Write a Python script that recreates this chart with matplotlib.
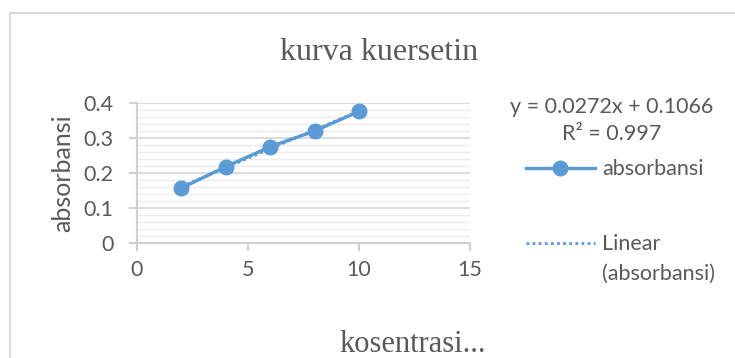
import numpy as np
import matplotlib
matplotlib.use("Agg")
import matplotlib.pyplot as plt
from matplotlib.lines import Line2D
from matplotlib.ticker import MultipleLocator

# data
konsentrasi = [2, 4, 6, 8, 10]
absorbansi = [0.157, 0.218, 0.275, 0.320, 0.376]
x_ticks = [0, 5, 10, 15]
y_ticks = [0, 0.1, 0.2, 0.3, 0.4]
y_tick_labels = ["0", "0.1", "0.2", "0.3", "0.4"]
title = "kurva kuersetin"
xlabel = "kosentrasi..."
ylabel = "absorbansi"
eq_text = "y = 0.0272x + 0.1066"
r2_text = "R² = 0.997"
series_name = "absorbansi"
trend_name = ["Linear", "(absorbansi)"]

W, H = 735, 358
fig = plt.figure(figsize=(W / 100, H / 100), dpi=100)
blue = "#5B9BD5"
gray_txt = "#595959"
sans = ["Lato", "DejaVu Sans"]
serif = ["Liberation Serif", "DejaVu Serif"]
fs = 15.5

# chart border (top & left visible)
fig.add_artist(Line2D([10 / W, 1.0], [1 - 13 / H, 1 - 13 / H], color="#d9d9d9", lw=1.5))
fig.add_artist(Line2D([10 / W, 10 / W], [1 - 13 / H, 0], color="#d9d9d9", lw=1.5))

ax = fig.add_axes([137 / W, 1 - 243 / H, (470 - 137) / W, (243 - 103) / H])
ax.set_xlim(0, 15)
ax.set_ylim(0, 0.4)
ax.set_xticks(x_ticks)
ax.set_yticks(y_ticks)
ax.set_yticklabels(y_tick_labels)
ax.yaxis.set_minor_locator(MultipleLocator(0.02))
ax.grid(True, axis="y", which="major", color="#d9d9d9", lw=1.3)
ax.grid(True, axis="y", which="minor", color="#ececec", lw=1.0)
ax.set_axisbelow(True)
for s in ["top", "right"]:
    ax.spines[s].set_visible(False)
for s in ["left", "bottom"]:
    ax.spines[s].set_color("#d0d0d0")
    ax.spines[s].set_linewidth(1.5)
ax.tick_params(axis="both", which="major", color="#d0d0d0", width=1.5, length=6,
               labelsize=fs, labelcolor=gray_txt)
ax.tick_params(axis="y", which="minor", length=0)
ax.tick_params(axis="y", pad=11)
ax.tick_params(axis="x", pad=6)
for lab in ax.get_xticklabels() + ax.get_yticklabels():
    lab.set_family(sans)

# trendline
coef = np.polyfit(konsentrasi, absorbansi, 1)
xt = np.array([min(konsentrasi), max(konsentrasi)])
ax.plot(xt, np.polyval(coef, xt), color=blue, lw=2, ls=(0, (1, 1.2)), zorder=3)
ax.plot(konsentrasi, absorbansi, color=blue, lw=2.4, marker="o", ms=10.5,
        zorder=4, clip_on=False)

fig.text(379 / W, 1 - 52 / H, title, family=serif, fontsize=23, color=gray_txt,
         ha="center", va="center")
fig.text(63 / W, 1 - 173 / H, ylabel, family=sans, fontsize=18, color=gray_txt,
         rotation=90, ha="center", va="center")
fig.text(413 / W, 1 - 345 / H, xlabel, family=serif, fontsize=22, color=gray_txt,
         ha="center", va="center")

# legend / equation
fig.text(612 / W, 1 - 107 / H, eq_text, family=sans, fontsize=fs, color=gray_txt,
         ha="center", va="center")
fig.text(612 / W, 1 - 134 / H, r2_text, family=sans, fontsize=fs, color=gray_txt,
         ha="center", va="center")
fig.add_artist(Line2D([526 / W, 595 / W], [1 - 168 / H, 1 - 168 / H], color=blue, lw=2.4))
fig.add_artist(Line2D([560 / W], [1 - 168 / H], color=blue, marker="o", ms=10.5))
fig.text(602 / W, 1 - 169 / H, series_name, family=sans, fontsize=fs, color=gray_txt,
         ha="left", va="center")
fig.add_artist(Line2D([526 / W, 595 / W], [1 - 243 / H, 1 - 243 / H], color=blue, lw=2,
                      ls=(0, (1, 1.2))))
fig.text(602 / W, 1 - 244 / H, trend_name[0], family=sans, fontsize=fs, color=gray_txt,
         ha="left", va="center")
fig.text(602 / W, 1 - 274 / H, trend_name[1], family=sans, fontsize=fs, color=gray_txt,
         ha="left", va="center")

fig.savefig("out.png", dpi=100, facecolor="white")
